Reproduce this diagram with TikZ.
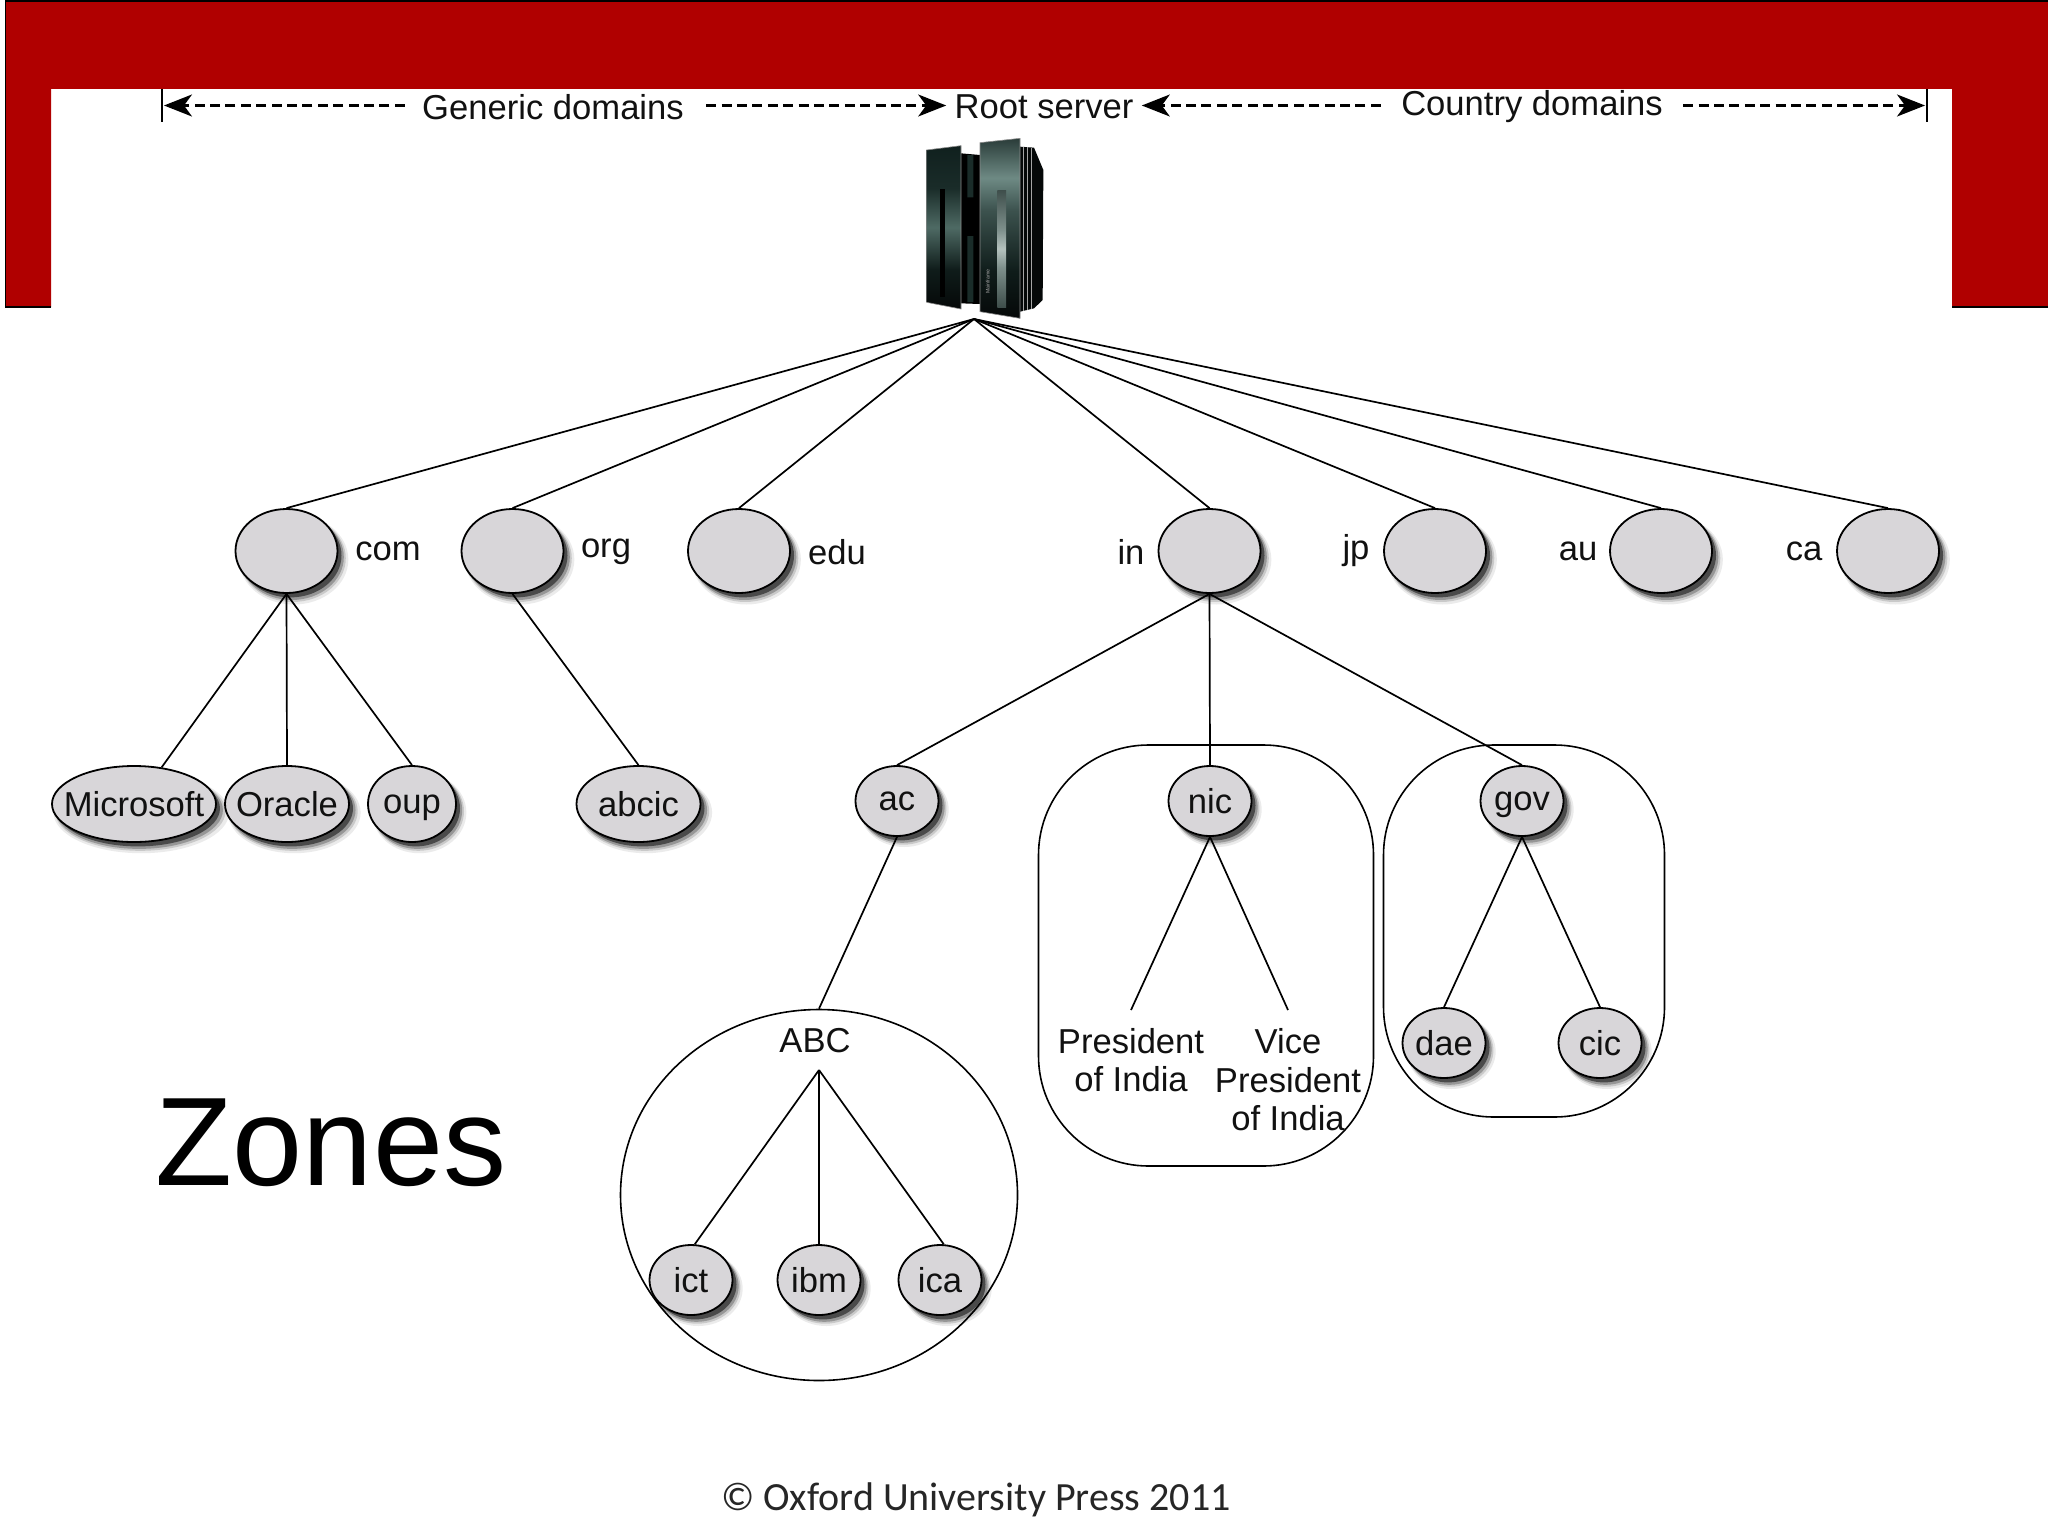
\documentclass[tikz,border=0pt]{standalone}
\usepackage{fontspec}
\setmainfont{Liberation Sans}
\newfontfamily\copyfont{Carlito}
\usetikzlibrary{shapes.geometric,shadows,arrows.meta}
\definecolor{banner}{HTML}{B00000}
\definecolor{nodegray}{HTML}{D8D6D9}
\definecolor{inktext}{HTML}{111111}
\definecolor{srvA}{HTML}{050808}
\definecolor{srvB}{HTML}{0F1C1A}
\definecolor{srvC}{HTML}{4E6A64}
\definecolor{srvD}{HTML}{1A2C29}
\definecolor{srvE}{HTML}{10201E}
\definecolor{srvF}{HTML}{6E8A84}
\definecolor{srvG}{HTML}{3C524E}
\definecolor{srvH}{HTML}{2A3C39}
\definecolor{srvI}{HTML}{3E4E4B}
\definecolor{srvJ}{HTML}{7E908C}
\definecolor{srvK}{HTML}{B4C2BE}
\pgfdeclareverticalshading{srvleft}{100bp}{color(0bp)=(srvA); color(25bp)=(srvA); color(37bp)=(srvB); color(50bp)=(srvC); color(62bp)=(srvD); color(75bp)=(srvE); color(100bp)=(srvE)}
\pgfdeclareverticalshading{srvright}{100bp}{color(0bp)=(srvA); color(25bp)=(srvA); color(38bp)=(srvB); color(55bp)=(srvG); color(64bp)=(srvF); color(75bp)=(srvH); color(100bp)=(srvH)}
\pgfdeclareverticalshading{srvslot}{100bp}{color(0bp)=(srvI); color(25bp)=(srvI); color(42bp)=(srvJ); color(50bp)=(srvK); color(58bp)=(srvJ); color(75bp)=(srvI); color(100bp)=(srvI)}
\newcommand{\ovtxt}[1]{\raisebox{0pt}[\height][0pt]{\makebox[0pt]{#1}}}
\tikzset{
  shad/.style={
    drop shadow={shadow xshift=3.4pt,shadow yshift=-4pt,opacity=.08,fill=black,shadow scale=1.07},
    drop shadow={shadow xshift=3pt,shadow yshift=-3.5pt,opacity=.14,fill=black,shadow scale=1.04},
    drop shadow={shadow xshift=2.6pt,shadow yshift=-3pt,opacity=.25,fill=black,shadow scale=1.02},
    drop shadow={shadow xshift=2pt,shadow yshift=-2.2pt,opacity=.5,fill=black}},
  oval/.style={ellipse,draw=black,line width=.9pt,fill=nodegray,inner sep=0pt,shad,text=inktext},
  big/.style={oval,minimum width=51pt,minimum height=42pt},
  small/.style={oval,minimum width=41.5pt,minimum height=35pt},
  wide/.style={oval,minimum width=62pt,minimum height=38pt},
  lab/.style={inner sep=0pt,text=inktext},
  link/.style={draw=black,line width=.85pt},
  zone/.style={draw=black,line width=.8pt,rounded corners=55pt,inner sep=0pt},
  span/.style={draw=black,line width=1.1pt,dash pattern=on 5pt off 2.7pt,-{Stealth[length=14pt,width=11pt,inset=4pt]}},
  title/.style={inner ysep=0pt,text=inktext}
}
\begin{document}
\begin{tikzpicture}[x=0.5pt,y=-0.5pt,font=\fontsize{17.3}{19.3}\selectfont]
\useasboundingbox (0,0) rectangle (2048,1536);
% banner
\fill[white] (0,0) rectangle (2048,1536);
\fill[banner] (5.5,1) -- (2048,1) -- (2048,307) -- (1952,307) -- (1952,89) -- (51,89) -- (51,307) -- (5.5,307) -- cycle;
\draw[black,line width=.7pt] (51,307) -- (5.5,307) -- (5.5,1) -- (2048,1);
\draw[black,line width=.7pt] (1952,307) -- (2048,307);
% server
\begin{scope}[shift={(880,100)},x=0.16667pt,y=-0.16667pt]
  \fill[srvA] (420,140) -- (462,143) -- (490,210) -- (488,600) -- (462,625) -- (420,635) -- cycle;
  \draw[black!35!white,line width=.3pt] (430,142) -- (430,632) (442,142) -- (442,630) (454,143) -- (454,628);
  \fill[black] (243,160) -- (300,165) -- (300,612) -- (243,610) -- cycle;
  \fill[srvD] (262,165) rectangle (280,292) (262,408) rectangle (280,606);
  \shade[shading=srvleft,draw=black!45!white,line width=.3pt] (140,150) -- (243,137) -- (243,627) -- (140,607) -- cycle;
  \shade[shading=srvright,draw=black!45!white,line width=.3pt] (300,128) -- (420,115) -- (420,655) -- (300,635) -- cycle;
  \fill[black] (180,268) rectangle (195,590);
  \shade[shading=srvslot] (352,270) rectangle (378,622);
  \node[inner sep=0pt,rotate=90,text=black!35!white,font=\fontsize{2.6}{3}\selectfont] (brand) at (323,545) {Mainframe};
\end{scope}
\coordinate (root) at (974,319);
% span row
\coordinate (tickL) at (162,105.5);
\coordinate (tickR) at (1927,105.5);
\node[title,inner xsep=8.5pt] (gen) at (553,107) {Generic domains};
\node[title,inner xsep=4pt] (rootlab) at (1044,107) {Root server};
\node[title,inner xsep=10pt] (cty) at (1532,106.5) {Country domains};
\draw[line width=.8pt] (162,89) -- (162,122);
\draw[line width=.8pt] (1927,89) -- (1927,122);
\draw[span] (gen.west |- tickL) -- ([xshift=1pt]tickL);
\draw[span,shorten <=2.5pt] (gen.east |- tickL) -- (rootlab.west |- tickL);
\draw[span] (cty.west |- tickL) -- (rootlab.east |- tickL);
\draw[span] (cty.east |- tickL) -- ([xshift=-1pt]tickR);
% zones
\node[zone,minimum width=167.5pt,minimum height=210.5pt] (nicz) at (1206,955.5) {};
\node[zone,minimum width=140.5pt,minimum height=186pt] (govz) at (1524,931) {};
\node[ellipse,draw=black,line width=.8pt,inner sep=0pt,minimum width=198.5pt,minimum height=185.5pt] (abcz) at (819,1195) {};
% top level
\node[big] (com) at (286.5,551) {};
\node[big] (org) at (512.5,551) {};
\node[big] (edu) at (739,551) {};
\node[big] (in) at (1209.5,551) {};
\node[big] (jp) at (1435,551) {};
\node[big] (au) at (1661,551) {};
\node[big] (ca) at (1888,551) {};
\node[lab] (lcom) at (388,551) {com};
\node[lab] (lorg) at (606,552) {org};
\node[lab] (ledu) at (837,552) {edu};
\node[lab] (lin) at (1131,552) {in};
\node[lab] (ljp) at (1356,551) {jp};
\node[lab] (lau) at (1578,551) {au};
\node[lab] (lca) at (1804,551) {ca};
% second level
\node[oval,minimum width=82pt,minimum height=38pt] (ms) at (134,804) {\ovtxt{Microsoft}};
\node[wide] (oracle) at (287,804) {\ovtxt{Oracle}};
\node[oval,minimum width=44pt,minimum height=38pt] (oup) at (412,804) {\ovtxt{oup}};
\node[wide] (abcic) at (638.5,804) {\ovtxt{abcic}};
\node[small] (ac) at (897,801) {\ovtxt{ac}};
\node[small] (nic) at (1210,801) {\ovtxt{nic}};
\node[small] (gov) at (1522,801) {\ovtxt{gov}};
\node[small] (dae) at (1444,1043) {\ovtxt{dae}};
\node[small] (cic) at (1600,1043) {\ovtxt{cic}};
\node[small] (ict) at (691,1280) {\ovtxt{ict}};
\node[small] (ibm) at (819,1280) {\ovtxt{ibm}};
\node[small] (ica) at (940,1280) {\ovtxt{ica}};
\node[lab,inner ysep=0pt] (abc) at (815,1041) {ABC};
\coordinate (abcfork) at (819,1070);
\node[lab,align=center] (pres) at (1131,1060) {President\\of India};
\node[lab,align=center] (vice) at (1288,1080) {Vice\\President\\of India};
\coordinate (presend) at (1131,1010);
\coordinate (viceend) at (1288,1010);
% connectors
\foreach \n in {com,org,edu,in,jp,au,ca} \draw[link] (root) -- (\n.north);
\draw[link] (com.south) -- (ms.53);
\draw[link] (com.south) -- (oracle.north);
\draw[link] (com.south) -- (oup.north);
\draw[link] (org.south) -- (abcic.north);
\draw[link] (in.south) -- (ac.north);
\draw[link] (in.south) -- (nic.north);
\draw[link] (in.south) -- (gov.north);
\draw[link] (ac.south) -- (abcz.north);
\draw[link] (nic.south) -- (presend);
\draw[link] (nic.south) -- (viceend);
\draw[link] (gov.south) -- (dae.north);
\draw[link] (gov.south) -- (cic.north);
\draw[link] (abcfork) -- (ict.84);
\draw[link] (abcfork) -- (ibm.north);
\draw[link] (abcfork) -- (ica.84);
% free text
\node[anchor=base,inner sep=0pt,font=\fontsize{63}{63}\selectfont] (zones) at (331,1185) {Zones};
\node[anchor=base,inner sep=0pt,font=\copyfont\fontsize{20}{24}\selectfont,text=black!85!white] (press) at (976,1510) {© Oxford University Press 2011};
\end{tikzpicture}
\end{document}
